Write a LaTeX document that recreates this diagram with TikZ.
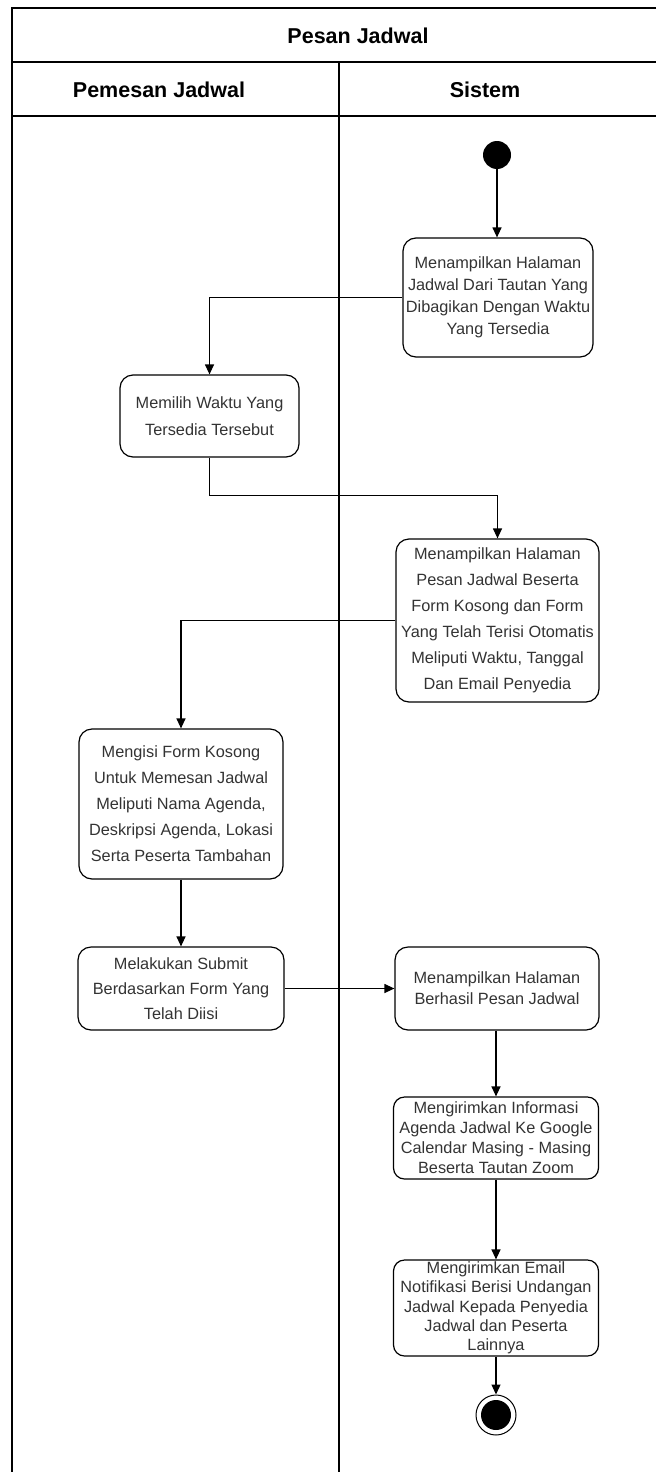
\documentclass[tikz,border=0pt]{standalone}
\usepackage{fontspec}
\setmainfont{Liberation Sans}
\usetikzlibrary{arrows.meta}
\begin{document}
\begin{tikzpicture}[x=1pt,y=-1pt,
  act/.style={draw, line width=1.2pt, rounded corners=13pt, align=center,
    inner sep=0pt, text=black!80},
  fs/.style={font=\fontsize{16.3}{#1}\selectfont},
  flow/.style={line width=1.2pt, -{Triangle[length=10pt,width=9pt]}},
  lane/.style={line width=1.4pt},
  head/.style={font=\bfseries\fontsize{21.5}{26}\selectfont}]
\useasboundingbox (0,0) rectangle (656,1472);

% pool frame, title row and lane headers
\draw[lane] (656,8) -- (12,8) -- (12,1472);
\draw[lane] (12,62) -- (656,62);
\draw[lane] (12,116) -- (656,116);
\draw[lane] (339,62) -- (339,1472);
\node[head] (title) at (358,36) {Pesan Jadwal};
\node[head] (laneA) at (159,90) {Pemesan Jadwal};
\node[head] (laneB) at (485,90) {Sistem};

% start and end
\node[circle, fill=black, minimum size=28pt, inner sep=0pt] (start) at (497,155) {};
\node[circle, draw, line width=1pt, minimum size=40pt, inner sep=0pt] (stop) at (496,1415) {};
\node[circle, fill=black, minimum size=30pt, inner sep=0pt] (stopdot) at (496,1415) {};

% activities
\node[act, fs=22, minimum width=190pt, minimum height=119pt] (A) at (498,297.5)
  {Menampilkan Halaman\\Jadwal Dari Tautan Yang\\Dibagikan Dengan Waktu\\Yang Tersedia};
\node[act, fs=27, minimum width=179pt, minimum height=82pt] (B) at (209.5,416)
  {Memilih Waktu Yang\\Tersedia Tersebut};
\node[act, fs=26, minimum width=203pt, minimum height=163pt] (C) at (497.5,620.5)
  {Menampilkan Halaman\\Pesan Jadwal Beserta\\Form Kosong dan Form\\Yang Telah Terisi Otomatis\\Meliputi Waktu, Tanggal\\Dan Email Penyedia};
\node[act, fs=26, minimum width=204pt, minimum height=150pt] (D) at (181,804)
  {Mengisi Form Kosong\\Untuk Memesan Jadwal\\Meliputi Nama Agenda,\\Deskripsi Agenda, Lokasi\\Serta Peserta Tambahan};
\node[act, fs=25, minimum width=206pt, minimum height=83pt] (E) at (181,988.5)
  {Melakukan Submit\\Berdasarkan Form Yang\\Telah Diisi};
\node[act, fs=21, minimum width=204pt, minimum height=83pt] (F) at (497,988.5)
  {Menampilkan Halaman\\Berhasil Pesan Jadwal};
\node[act, fs=20, minimum width=205pt, minimum height=82pt, rounded corners=11pt] (G) at (496,1138)
  {Mengirimkan Informasi\\Agenda Jadwal Ke Google\\Calendar Masing - Masing\\Beserta Tautan Zoom};
\node[act, fs=19.3, minimum width=205pt, minimum height=96pt, rounded corners=11pt] (H) at (496,1308)
  {Mengirimkan Email\\Notifikasi Berisi Undangan\\Jadwal Kepada Penyedia\\Jadwal dan Peserta\\Lainnya};

% control flow
\draw[flow] (start) -- (start |- A.north);
\draw[flow] (A.west) -| (B.north);
\draw[flow] (B.south) -- ++(0,38) -| (C.north);
\draw[flow] (C.west) -| (D.north);
\draw[flow] (D) -- (E);
\draw[flow] (E) -- (F);
\draw[flow] (F.south -| G.north) -- (G.north);
\draw[flow] (G) -- (H);
\draw[flow] (H) -- (stop);
\end{tikzpicture}
\end{document}
